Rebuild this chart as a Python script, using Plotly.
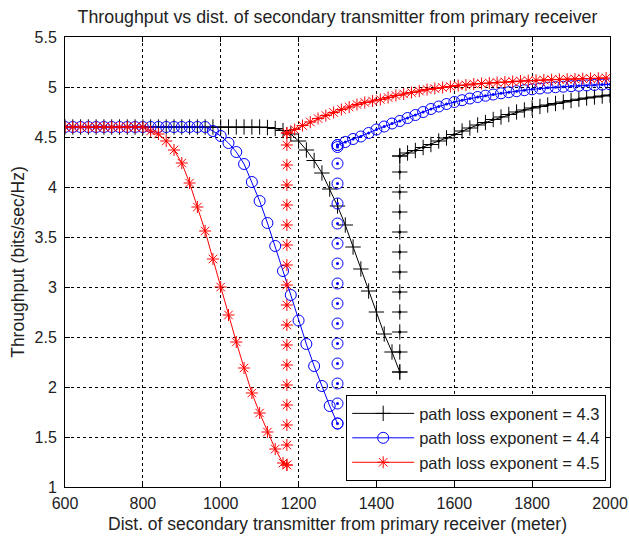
import plotly.graph_objects as go

# ---------------- data ----------------
# path loss exponent = 4.3 (black)
k_dec_x = list(range(600, 1461, 20))
k_dec_y = [4.6, 4.6, 4.6, 4.6, 4.6, 4.6, 4.6, 4.6, 4.6, 4.6, 4.6, 4.6, 4.6,
           4.6, 4.6, 4.6, 4.6, 4.6, 4.6, 4.6, 4.6, 4.6, 4.6, 4.6, 4.6, 4.6,
           4.595, 4.585, 4.565, 4.53, 4.46, 4.37, 4.265, 4.14, 3.98, 3.81,
           3.62, 3.40, 3.18, 2.96, 2.75, 2.53, 2.35, 2.15]
k_ver_x = [1460] * 12
k_ver_y = [2.15, 2.35, 2.55, 2.75, 2.95, 3.15, 3.35, 3.55, 3.75, 3.95, 4.15, 4.31]
k_ris_x = list(range(1460, 2001, 20))
k_ris_y = [4.31, 4.34, 4.365, 4.395, 4.425, 4.46, 4.49, 4.525, 4.56, 4.59,
           4.62, 4.645, 4.675, 4.70, 4.725, 4.75, 4.77, 4.79, 4.805, 4.82,
           4.835, 4.85, 4.865, 4.878, 4.89, 4.90, 4.91, 4.92]

# path loss exponent = 4.4 (blue)
b_dec_x = list(range(600, 1301, 20))
b_dec_y = [4.6, 4.6, 4.6, 4.6, 4.6, 4.6, 4.6, 4.6, 4.6, 4.6, 4.6, 4.6, 4.6,
           4.6, 4.6, 4.6, 4.6, 4.6, 4.6,
           4.56, 4.51, 4.44, 4.35, 4.23, 4.05, 3.86, 3.64, 3.41, 3.16, 2.92,
           2.665, 2.43, 2.21, 2.01, 1.81, 1.635]
b_ver_x = [1300] * 16
b_ver_y = [1.635, 1.835, 2.035, 2.235, 2.435, 2.635, 2.835, 3.035, 3.235,
           3.435, 3.635, 3.835, 4.035, 4.235, 4.40, 4.42]
b_ris_x = list(range(1300, 2001, 20))
b_ris_y = [4.42, 4.45, 4.48, 4.505, 4.54, 4.575, 4.605, 4.635, 4.66, 4.69,
           4.72, 4.75, 4.78, 4.805, 4.83, 4.85, 4.868, 4.885, 4.90, 4.913,
           4.925, 4.937, 4.948, 4.958, 4.968, 4.977, 4.985, 4.993, 4.998,
           5.003, 5.008, 5.012, 5.016, 5.02, 5.024, 5.027]

# path loss exponent = 4.5 (red)
r_dec_x = list(range(600, 1161, 20)) + [1170]
r_dec_y = [4.6, 4.6, 4.6, 4.6, 4.6, 4.6, 4.6, 4.6, 4.6, 4.6, 4.6,
           4.56, 4.53, 4.46, 4.37, 4.24, 4.04, 3.80, 3.56, 3.28, 3.00, 2.72,
           2.45, 2.19, 1.94, 1.74, 1.55, 1.38, 1.24, 1.22]
r_ver_x = [1170] * 18
r_ver_y = [1.22, 1.42, 1.62, 1.82, 2.02, 2.22, 2.42, 2.62, 2.82, 3.02, 3.22,
           3.42, 3.62, 3.82, 4.02, 4.22, 4.42, 4.54]
r_ris_x = list(range(1170, 1991, 20))
r_ris_y = [4.54, 4.575, 4.615, 4.65, 4.685, 4.715, 4.745, 4.775, 4.80, 4.825,
           4.845, 4.86, 4.875, 4.895, 4.915, 4.93, 4.945, 4.96, 4.975, 4.985,
           4.995, 5.005, 5.015, 5.02, 5.03, 5.035, 5.04, 5.045, 5.05, 5.055,
           5.06, 5.063, 5.066, 5.07, 5.073, 5.076, 5.078, 5.08, 5.083, 5.085,
           5.087, 5.09]

x_ticks = [600, 800, 1000, 1200, 1400, 1600, 1800, 2000]
y_ticks = [1, 1.5, 2, 2.5, 3, 3.5, 4, 4.5, 5, 5.5]
y_tick_text = ["1", "1.5", "2", "2.5", "3", "3.5", "4", "4.5", "5", "5.5"]
legend_names = ["path loss exponent = 4.3", "path loss exponent = 4.4",
                "path loss exponent = 4.5"]

# ---------------- figure ----------------
FONT = "Liberation Sans, Arial, sans-serif"
fig = go.Figure()

series = [
    (k_dec_x, k_dec_y, k_ver_x, k_ver_y, k_ris_x, k_ris_y, "#000000",
     "cross-thin-open", 11, legend_names[0]),
    (b_dec_x, b_dec_y, b_ver_x, b_ver_y, b_ris_x, b_ris_y, "#0000ff",
     "circle-open", 11, legend_names[1]),
    (r_dec_x, r_dec_y, r_ver_x, r_ver_y, r_ris_x, r_ris_y, "#ff0000",
     "asterisk-open", 10, legend_names[2]),
]

for dx, dy, vx, vy, rx, ry, col, sym, size, name in series:
    mk = dict(symbol=sym, size=size, color=col, line=dict(color=col, width=1))
    fig.add_trace(go.Scatter(x=dx, y=dy, mode="lines+markers", name=name,
                             line=dict(color=col, width=1), marker=mk,
                             legendgroup=name))
    fig.add_trace(go.Scatter(x=vx, y=vy, mode="markers", marker=mk,
                             showlegend=False, legendgroup=name, hoverinfo="skip"))
    fig.add_trace(go.Scatter(x=rx, y=ry, mode="lines+markers",
                             line=dict(color=col, width=1), marker=mk,
                             showlegend=False, legendgroup=name))
    # centre dots on the jump / rising part
    fig.add_trace(go.Scatter(x=list(vx) + list(rx), y=list(vy) + list(ry),
                             mode="markers",
                             marker=dict(symbol="circle", size=3, color=col),
                             showlegend=False, legendgroup=name, hoverinfo="skip"))

axis_common = dict(
    showline=True, linecolor="black", linewidth=1, mirror="ticks",
    ticks="inside", ticklen=5, tickcolor="black", tickwidth=1,
    showgrid=True, gridcolor="black", gridwidth=1, griddash="dot",
    zeroline=False, automargin=False,
    tickfont=dict(family=FONT, size=16, color="#222222"),
)

fig.update_layout(
    width=629, height=537,
    margin=dict(l=65, r=19, t=37, b=50),
    paper_bgcolor="white", plot_bgcolor="white",
    font=dict(family=FONT, size=16, color="#222222"),
    title=dict(text="Throughput vs dist. of secondary transmitter from primary receiver",
               x=0.5, xref="paper", xanchor="center",
               y=1 - 17 / 537, yref="container", yanchor="middle",
               font=dict(family=FONT, size=17.8, color="#222222")),
    xaxis=dict(range=[600, 2000], tickvals=x_ticks, ticklabelstandoff=2,
               title=dict(text="Dist. of secondary transmitter from primary receiver (meter)",
                          font=dict(family=FONT, size=17.5), standoff=6),
               **axis_common),
    yaxis=dict(range=[1, 5.5], tickvals=y_ticks, ticktext=y_tick_text,
               ticklabelstandoff=4,
               title=dict(text="Throughput (bits/sec/Hz)",
                          font=dict(family=FONT, size=17.5), standoff=5),
               **axis_common),
    legend=dict(x=0.993, y=0.013, xanchor="right", yanchor="bottom",
                bgcolor="white", bordercolor="black", borderwidth=1,
                font=dict(family=FONT, size=16.5, color="#222222"),
                tracegroupgap=0, itemwidth=62),
    showlegend=True,
)

fig.write_html("out.html", config={"displayModeBar": False},
               post_script="document.body.style.margin='0';")
